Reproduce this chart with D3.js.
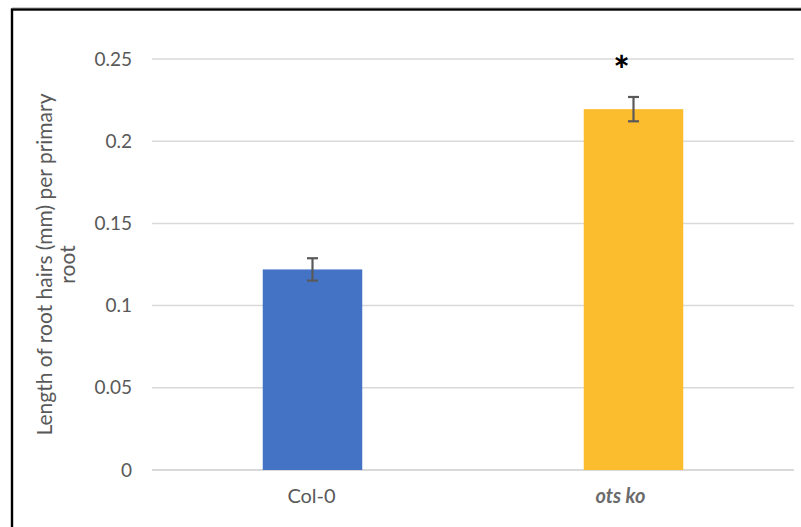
<!DOCTYPE html>
<html>
  <head>
    <meta charset="utf-8" />
    <title>Length of root hairs</title>
    <script src="https://d3js.org/d3.v7.min.js"></script>
    <style>
      body { margin: 0; background: #fff; }
      svg text { font-family: Lato, "Open Sans", sans-serif; }
    </style>
  </head>
  <body>
    <svg id="chart" width="801" height="527"></svg>
    <script>
      // datos
      const categories = ["Col-0", "ots ko"];
      const means = [0.122, 0.2195];
      const errors = [0.0068, 0.0074];
      const marks = ["", "*"];
      const barColors = ["#4472C4", "#FBBC2D"];
      const yTicks = [0, 0.05, 0.1, 0.15, 0.2, 0.25];
      const yTickLabels = ["0", "0.05", "0.1", "0.15", "0.2", "0.25"];

      const svg = d3.select("#chart");
      const margin = { top: 59, right: 7, bottom: 57, left: 152 };
      const width = 801, height = 527;

      // marco
      svg.append("line")
        .attr("x1", 12).attr("x2", width).attr("y1", 7.5).attr("y2", 7.5)
        .style("stroke", "#cfcfcf").style("stroke-width", 1);
      svg.append("rect")
        .attr("x", 12).attr("y", 9.5)
        .attr("width", width + 20).attr("height", height + 20)
        .style("fill", "none").style("stroke", "#000").style("stroke-width", 2.4);

      const x = d3.scaleBand()
        .domain(categories)
        .range([margin.left, width - margin.right])
        .paddingInner(0.69)
        .paddingOuter(0.345);
      const y = d3.scaleLinear()
        .domain([0, 0.25])
        .range([height - margin.bottom, margin.top]);

      // rejilla
      svg.append("g")
        .selectAll("line")
        .data(yTicks)
        .enter()
        .append("line")
        .attr("x1", margin.left)
        .attr("x2", width - margin.right)
        .attr("y1", (d) => y(d))
        .attr("y2", (d) => y(d))
        .style("stroke", "#d9d9d9")
        .style("stroke-width", (d) => (d === 0 ? 2 : 1.5));

      // etiquetas del eje y
      svg.append("g")
        .selectAll("text")
        .data(yTicks)
        .enter()
        .append("text")
        .attr("x", 132)
        .attr("y", (d) => y(d))
        .attr("dy", "0.35em")
        .attr("text-anchor", "end")
        .style("font-size", "19px")
        .style("fill", "#595959")
        .text((d, i) => yTickLabels[i]);

      // barras
      svg.append("g")
        .selectAll("rect")
        .data(categories)
        .enter()
        .append("rect")
        .attr("x", (d) => x(d))
        .attr("y", (d, i) => y(means[i]))
        .attr("width", x.bandwidth())
        .attr("height", (d, i) => y(0) - y(means[i]))
        .style("fill", (d, i) => barColors[i]);

      // barras de error
      const eb = svg.append("g")
        .selectAll("g")
        .data(categories)
        .enter()
        .append("g")
        .attr("transform", (d) => `translate(${x(d) + x.bandwidth() / 2},0)`)
        .style("stroke", "#595959")
        .style("stroke-width", 2.2);
      eb.append("line")
        .attr("y1", (d, i) => y(means[i] - errors[i]))
        .attr("y2", (d, i) => y(means[i] + errors[i]));
      eb.append("line")
        .attr("x1", -5.5).attr("x2", 5.5)
        .attr("y1", (d, i) => y(means[i] + errors[i]))
        .attr("y2", (d, i) => y(means[i] + errors[i]));
      eb.append("line")
        .attr("x1", -5.5).attr("x2", 5.5)
        .attr("y1", (d, i) => y(means[i] - errors[i]))
        .attr("y2", (d, i) => y(means[i] - errors[i]));

      // asterisco
      svg.append("g")
        .selectAll("text")
        .data(categories)
        .enter()
        .append("text")
        .attr("x", (d) => x(d) + x.bandwidth() / 2 - 12)
        .attr("y", (d, i) => y(means[i] + errors[i]) - 13)
        .attr("text-anchor", "middle")
        .style("font-size", "38px")
        .style("font-weight", "900")
        .style("fill", "#000")
        .text((d, i) => marks[i]);

      // etiquetas del eje x
      svg.append("g")
        .selectAll("text")
        .data(categories)
        .enter()
        .append("text")
        .attr("x", (d) => x(d) + x.bandwidth() / 2)
        .attr("dx", (d, i) => (i === 1 ? -13 : -1))
        .attr("y", 503)
        .attr("text-anchor", "middle")
        .style("font-size", "20px")
        .style("font-style", (d, i) => (i === 1 ? "italic" : "normal"))
        .style("font-weight", (d, i) => (i === 1 ? "bold" : "normal"))
        .style("fill", (d, i) => (i === 1 ? "#6b6b6b" : "#595959"))
        .text((d) => d);

      // título del eje y
      const title = svg.append("text")
        .attr("transform", `translate(52,${(y(0) + y(0.25)) / 2}) rotate(-90)`)
        .attr("text-anchor", "middle")
        .style("font-size", "21px")
        .style("fill", "#595959");
      title.append("tspan").attr("x", 0).attr("dy", 0)
        .text("Length of root hairs (mm) per primary");
      title.append("tspan").attr("x", 0).attr("dy", "1.1em")
        .text("root");
    </script>
  </body>
</html>
